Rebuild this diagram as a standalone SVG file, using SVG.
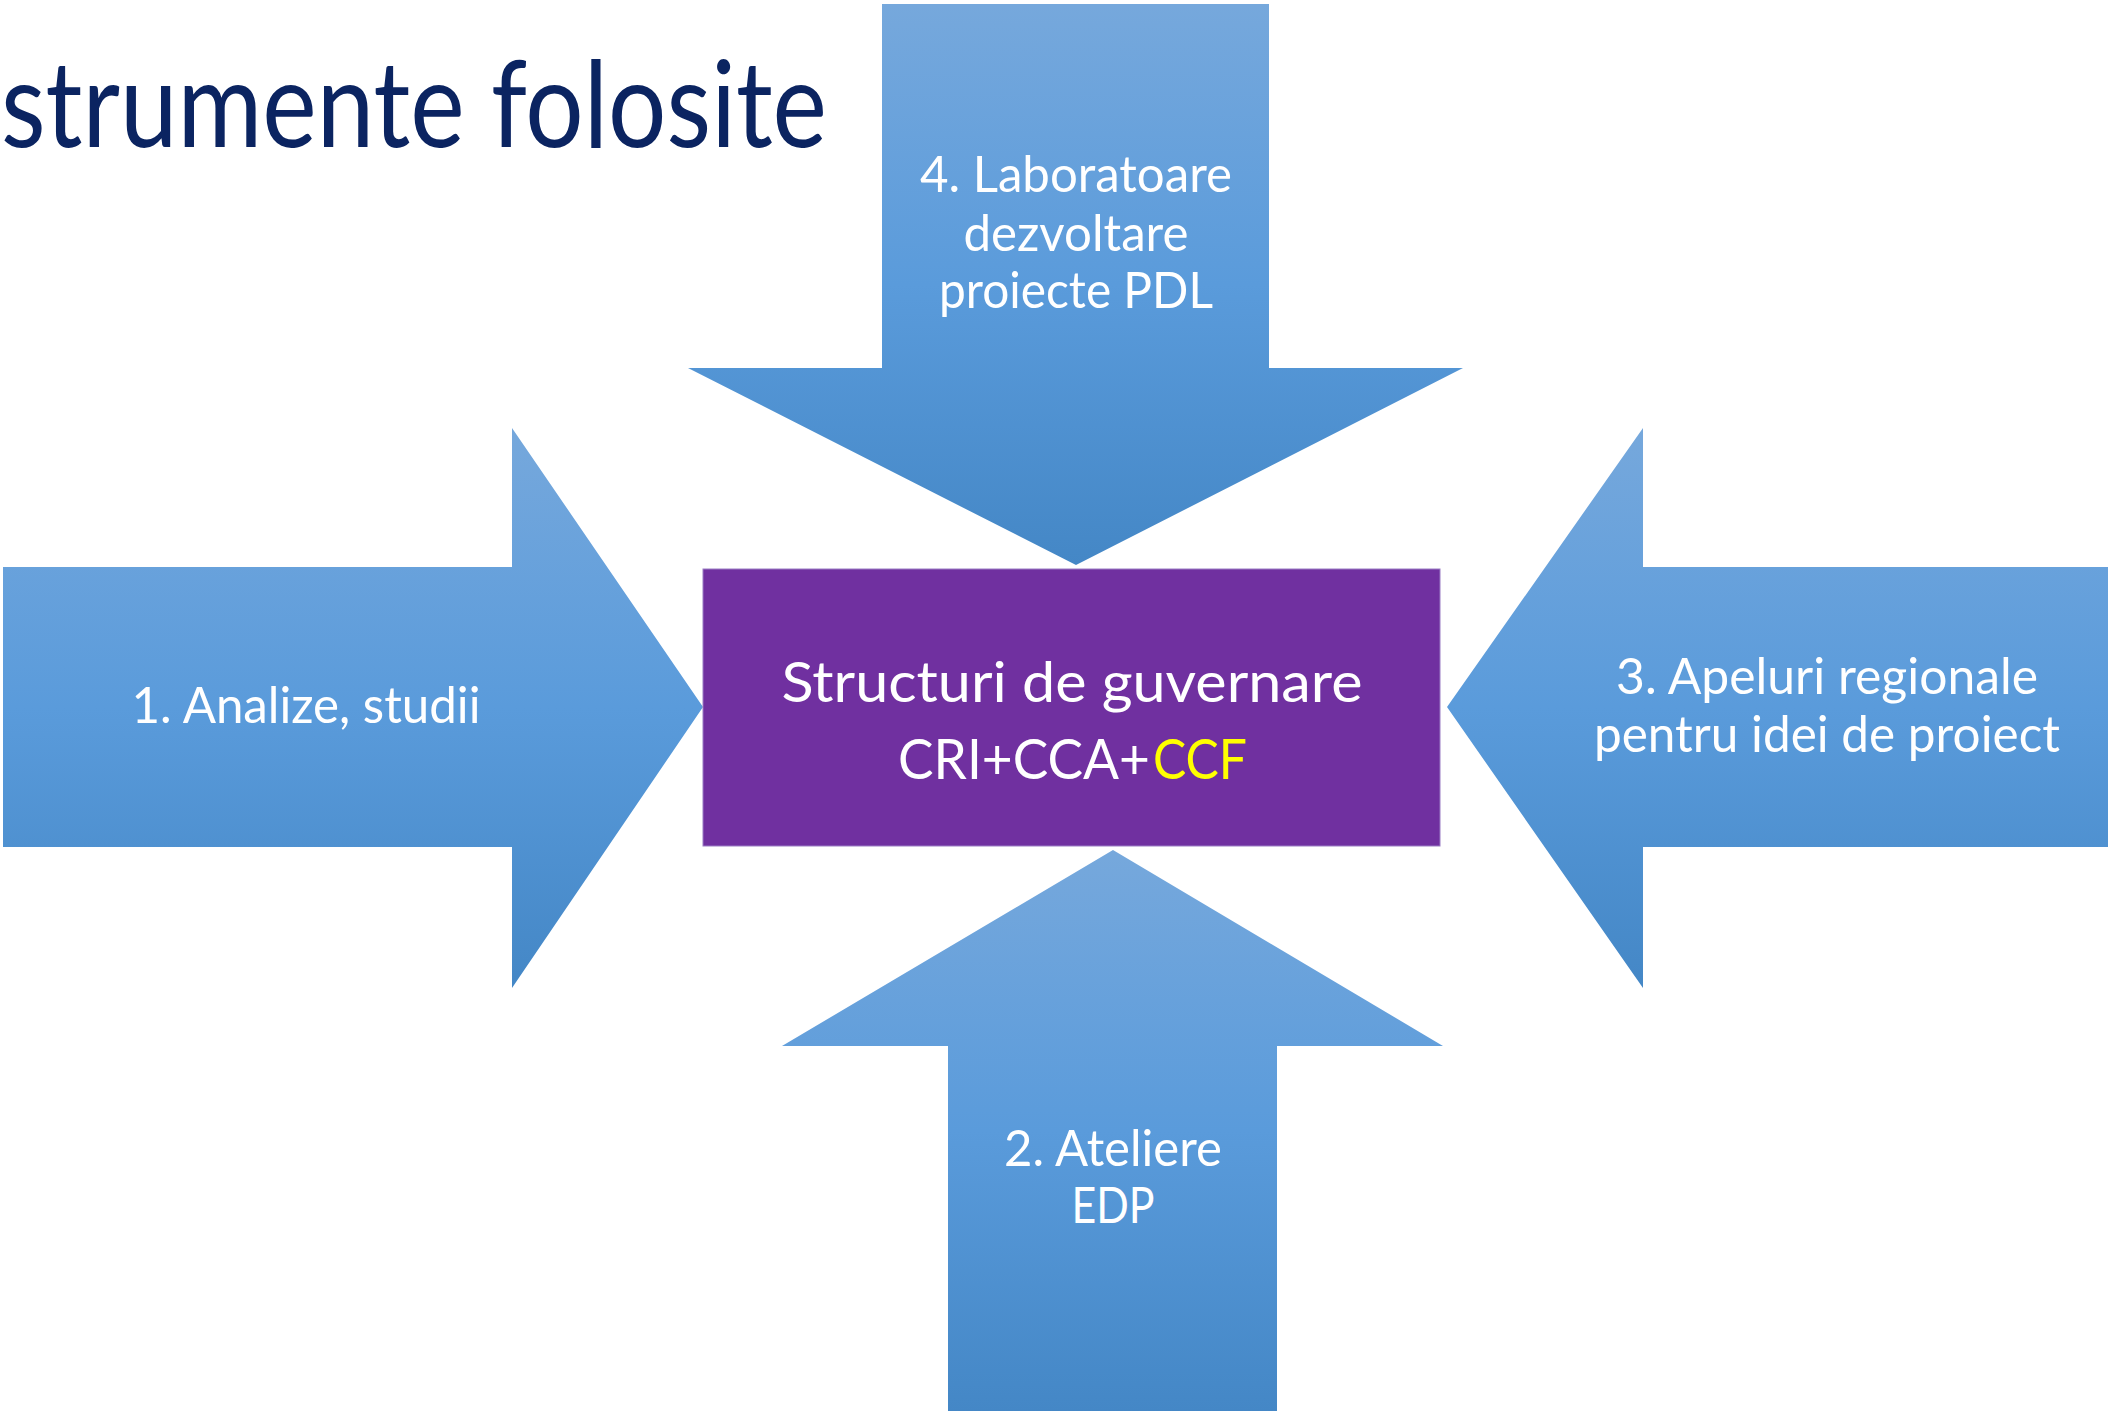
<svg xmlns="http://www.w3.org/2000/svg" width="2108" height="1411" viewBox="0 0 2108 1411">
  <defs>
    <linearGradient id="blueV" x1="0" y1="0" x2="0" y2="1">
      <stop offset="0" stop-color="#76A8DC"/>
      <stop offset="0.5" stop-color="#5A9BDB"/>
      <stop offset="1" stop-color="#4487C6"/>
    </linearGradient>
    <style>
      .arrow { fill: url(#blueV); }
      .lbl { font-family: Lato, "Open Sans", "Liberation Sans", sans-serif; font-size: 50px; fill: #FFFFFF; text-anchor: middle; }
      .ctr { font-family: Lato, "Open Sans", "Liberation Sans", sans-serif; font-size: 56px; fill: #FFFFFF; }
      .title { font-family: Lato, "Open Sans", "Liberation Sans", sans-serif; font-size: 120px; fill: #0B2461; }
    </style>
  </defs>
  <rect x="0" y="0" width="2108" height="1411" fill="#FFFFFF"/>

  <text class="title" x="1" y="147" textLength="826" lengthAdjust="spacingAndGlyphs">strumente folosite</text>

  <g id="connectors">
    <g id="arrow-top">
      <polygon class="arrow" points="882,4 1269,4 1269,368 1463,368 1076,565 688,368 882,368"/>
      <text class="lbl" x="1076" y="192" textLength="312" lengthAdjust="spacingAndGlyphs">4. Laboratoare</text>
      <text class="lbl" x="1076" y="251" textLength="225" lengthAdjust="spacingAndGlyphs">dezvoltare</text>
      <text class="lbl" x="1076" y="308" textLength="274" lengthAdjust="spacingAndGlyphs">proiecte PDL</text>
    </g>
    <g id="arrow-left">
      <polygon class="arrow" points="3,567 512,567 512,428 703,707 512,988 512,847 3,847"/>
      <text class="lbl" x="306" y="723" textLength="349" lengthAdjust="spacingAndGlyphs">1. Analize, studii</text>
    </g>
    <g id="arrow-right">
      <polygon class="arrow" points="2108,567 1643,567 1643,428 1447,707 1643,988 1643,847 2108,847"/>
      <text class="lbl" x="1827" y="694" textLength="422" lengthAdjust="spacingAndGlyphs">3. Apeluri regionale</text>
      <text class="lbl" x="1827" y="752" textLength="466" lengthAdjust="spacingAndGlyphs">pentru idei de proiect</text>
    </g>
    <g id="arrow-bottom">
      <polygon class="arrow" points="1113,850 1443,1046 1277,1046 1277,1411 948,1411 948,1046 782,1046"/>
      <text class="lbl" x="1113" y="1166" textLength="218" lengthAdjust="spacingAndGlyphs">2. Ateliere</text>
      <text class="lbl" x="1113" y="1223" textLength="83" lengthAdjust="spacingAndGlyphs">EDP</text>
    </g>
  </g>

  <g id="node-center">
    <rect x="703" y="569" width="737" height="277" fill="#7030A0" stroke="#9A7CC4" stroke-width="1"/>
    <text class="ctr" x="1072" y="702" text-anchor="middle" textLength="581" lengthAdjust="spacingAndGlyphs">Structuri de guvernare</text>
    <text class="ctr" x="898" y="779" textLength="252" lengthAdjust="spacingAndGlyphs">CRI+CCA+</text>
    <text class="ctr" x="1153" y="779" fill="#FFFF00" style="fill:#FFFF00" textLength="94" lengthAdjust="spacingAndGlyphs">CCF</text>
  </g>
</svg>
